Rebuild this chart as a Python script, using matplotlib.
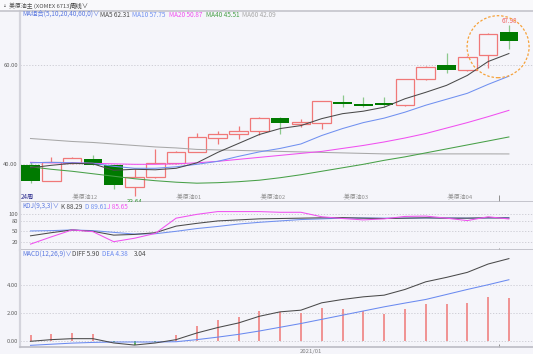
import matplotlib
matplotlib.use('Agg')
import matplotlib.pyplot as plt
from matplotlib.patches import Ellipse

plt.rcParams['font.family'] = ['Noto Sans CJK SC', 'DejaVu Sans']

W, H = 533, 354
BG = '#f5f5fa'

# weekly candles
opens = [39.9, 36.7, 40.3, 41.0, 39.9, 35.4, 37.4, 40.2, 42.5, 45.4, 46.1, 46.7,
         49.3, 48.2, 48.4, 52.5, 52.1, 52.4, 51.9, 57.1, 60.0, 58.9, 62.0, 66.6]
highs = [40.5, 41.5, 41.4, 41.9, 39.9, 39.0, 43.1, 42.6, 46.3, 46.7, 47.7, 49.5,
         49.6, 49.1, 52.75, 54.0, 53.6, 53.6, 57.1, 59.8, 62.4, 61.8, 66.5, 67.98]
lows = [36.3, 36.6, 40.0, 39.8, 35.0, 33.64, 37.3, 40.1, 42.4, 44.0, 45.0, 46.0,
        46.2, 47.6, 47.2, 51.5, 51.5, 51.6, 51.7, 57.0, 58.45, 58.8, 59.3, 63.2]
closes = [36.7, 40.5, 41.2, 39.8, 35.9, 37.5, 40.2, 42.5, 45.6, 46.1, 46.7, 49.3,
          48.4, 48.6, 52.75, 52.1, 51.8, 52.0, 57.1, 59.7, 59.0, 61.7, 66.2, 64.8]

ma5 = [39.3, 39.8, 40.2, 40.1, 38.8, 39.0, 38.9, 39.2, 40.3, 42.4, 44.2, 46.0,
       47.2, 47.8, 49.2, 50.2, 50.7, 51.5, 53.2, 54.5, 55.9, 57.9, 60.7, 62.31]
ma10 = [40.3, 40.4, 40.3, 40.2, 39.6, 39.2, 39.2, 39.5, 40.0, 40.6, 41.6, 42.5,
        43.2, 44.1, 45.8, 47.2, 48.4, 49.3, 50.5, 51.9, 53.1, 54.3, 56.1, 57.75]
ma20 = [40.4, 40.3, 40.3, 40.2, 40.1, 40.0, 40.0, 40.1, 40.3, 40.6, 41.0, 41.4,
        41.8, 42.2, 42.6, 43.2, 43.8, 44.5, 45.3, 46.2, 47.3, 48.4, 49.6, 50.87]
ma40 = [39.5, 39.0, 38.6, 38.1, 37.6, 37.1, 36.7, 36.4, 36.2, 36.3, 36.5, 36.8,
        37.3, 37.9, 38.6, 39.3, 40.0, 40.8, 41.5, 42.3, 43.1, 43.9, 44.7, 45.51]
ma60 = [45.2, 44.9, 44.6, 44.4, 44.1, 43.8, 43.5, 43.3, 43.0, 42.9, 42.8, 42.7,
        42.6, 42.5, 42.4, 42.3, 42.2, 42.1, 42.1, 42.1, 42.1, 42.1, 42.1, 42.09]

k_vals = [37, 46, 54, 50, 39, 41, 46, 65, 73, 80, 83, 86,
          87, 88, 89, 89.5, 88, 87, 88, 89, 88, 88, 89, 88.29]
d_vals = [51, 52, 54, 52, 47, 42, 43, 50, 58, 64, 71, 76,
          80, 84, 86, 88, 88.5, 88, 88, 88.5, 88.5, 88, 88.5, 89.61]
j_vals = [13, 34, 54, 49, 20, 30, 44, 88, 99, 107, 107, 107,
          105, 105, 92, 87, 83, 86, 93, 94, 88, 81, 92, 85.65]

diff = [-0.05, 0.07, 0.14, 0.14, -0.17, -0.32, -0.17, 0.07, 0.55, 0.94, 1.27, 1.75,
        2.07, 2.19, 2.72, 2.96, 3.15, 3.27, 3.68, 4.23, 4.55, 4.91, 5.51, 5.90]
dea = [-0.34, -0.26, -0.18, -0.13, -0.10, -0.10, -0.10, -0.08, 0.07, 0.25, 0.45, 0.69,
       0.96, 1.23, 1.53, 1.83, 2.13, 2.43, 2.70, 2.96, 3.32, 3.68, 4.02, 4.38]
macd_bar = [0.43, 0.45, 0.58, 0.45, -0.08, -0.30, -0.08, 0.38, 1.03, 1.47, 1.70, 2.10,
            2.07, 2.02, 2.35, 2.31, 2.14, 1.90, 2.26, 2.62, 2.60, 2.71, 3.15, 3.04]

roll_marks = [2, 7, 11, 15, 20]
roll_labels = ['-美原油12', '-美原油01', '-美原油02', '-美原油03', '-美原油04']

RED = '#f07878'
GREEN = '#007a00'
C_MA5, C_MA10, C_MA20, C_MA40, C_MA60 = '#4a4a4a', '#7090f0', '#f050f0', '#48a048', '#a8a8a8'

x = list(range(len(closes)))
XMIN = -0.505
XMAX = XMIN + 513 / 20.8


def frac(px_l, px_t, px_w, px_h):
    return [px_l / W, 1 - (px_t + px_h) / H, px_w / W, px_h / H]


fig = plt.figure(figsize=(W / 100, H / 100), dpi=100, facecolor=BG)
ax = fig.add_axes(frac(20, 11, 513, 191), facecolor=BG)
ax_k = fig.add_axes(frac(20, 202, 513, 48), facecolor=BG)
ax_m = fig.add_axes(frac(20, 250, 513, 97), facecolor=BG)

for a in (ax, ax_k, ax_m):
    a.set_xlim(XMIN, XMAX)
    a.set_xticks([])
    for s in ('top', 'right'):
        a.spines[s].set_visible(False)
    a.spines['left'].set_color('#d4d4dc')
    a.spines['left'].set_linewidth(1.6)
    a.spines['bottom'].set_color('#bcbcc4')
    a.spines['bottom'].set_linewidth(1.2)
    a.tick_params(axis='y', length=0, pad=1.5, labelsize=4.2, labelcolor='#606060')
    a.grid(axis='y', color='#c8c8d0', linestyle=(0, (1.5, 2)), linewidth=0.6)
    a.set_axisbelow(True)

# main panel
ax.set_ylim(32.41, 70.88)
ax.set_yticks([40, 60])
ax.set_yticklabels(['40.00', '60.00'])

for i in x:
    o, h, l, c = opens[i], highs[i], lows[i], closes[i]
    if c >= o:
        ax.vlines(i, l, h, color=RED, lw=0.9, zorder=2)
        ax.bar(i, max(c - o, 0.15), bottom=o, width=0.9, facecolor=BG,
               edgecolor=RED, linewidth=0.9, zorder=3)
    else:
        ax.vlines(i, l, h, color='#8cc88c', lw=0.9, zorder=2)
        ax.bar(i, o - c, bottom=c, width=0.9, color=GREEN, linewidth=0, zorder=3)

for vals, col in ((ma60, C_MA60), (ma40, C_MA40), (ma20, C_MA20), (ma10, C_MA10), (ma5, C_MA5)):
    ax.plot(x, vals, color=col, lw=0.75, zorder=4)

ax.text(23, highs[23], '%.2f' % highs[23], color='#f06060', fontsize=4.5,
        ha='center', va='bottom', zorder=5)
ax.annotate('%.2f' % min(lows), (5, min(lows)), xytext=(0, -1.5), textcoords='offset points',
            color='#40a040', fontsize=4.5, ha='center', va='top')
ax.add_patch(Ellipse((22.48, 63.69), 2 * 31 / 20.8, 2 * 31 / 4.965, fill=False,
                     edgecolor='#f6a23a', linestyle=(0, (2, 1.5)), lw=0.9, clip_on=False, zorder=6))

for m, lab in zip(roll_marks, roll_labels):
    ax.text(m, 33.4, lab, color='#909090', fontsize=4.2, ha='left', va='center')
ax.text(-0.45, 33.4, '24周', color='#303090', fontsize=4.5, ha='left', va='center')

# KDJ
ax_k.set_ylim(-4.0, 134.7)
ax_k.set_yticks([20, 50, 80, 100])
ax_k.plot(x, d_vals, color=C_MA10, lw=0.75)
ax_k.plot(x, k_vals, color=C_MA5, lw=0.75)
ax_k.plot(x, j_vals, color=C_MA20, lw=0.75)

# MACD
ax_m.set_ylim(-0.46, 6.52)
ax_m.set_yticks([0, 2, 4])
ax_m.set_yticklabels(['0.00', '2.00', '4.00'])
bar_cols = ['#f08a8a' if v >= 0 else '#50b050' for v in macd_bar]
ax_m.vlines(x, 0, macd_bar, colors=bar_cols, lw=1.3)
ax_m.plot(x, dea, color='#6a8af0', lw=0.75)
ax_m.plot(x, diff, color=C_MA5, lw=0.75)

for a, lo in ((ax, 32.41), (ax_k, -4.0), (ax_m, -0.46)):
    top = a.get_ylim()[1]
    a.vlines(22.5, lo, lo + (top - lo) * 0.035, color='#909090', lw=0.7, clip_on=False)

# header strip
fig.add_artist(plt.Line2D([0, 1], [1 - 10.5 / H, 1 - 10.5 / H], color='#c4c4cc', lw=1.2))
fig.patches.append(plt.Rectangle((0, 1 - 10 / H), 1, 10 / H, transform=fig.transFigure,
                                 facecolor='#f9f9fb', edgecolor='none', zorder=-1))


def label(px_x, px_y, s, col, size=4.6):
    fig.text(px_x / W, 1 - px_y / H, s, color=col, fontsize=size, ha='left', va='center')


label(2, 5.5, '▫ 美原油主 (XOMEX 6713)', '#505050', 4.2)
label(70, 5.5, '周线∨', '#404040', 4.6)

label(22.5, 14.8, 'MA组合(5,10,20,40,60,0)∨', '#5a78e0')
label(100, 14.8, 'MA5 %.2f' % ma5[-1], C_MA5)
label(132.5, 14.8, 'MA10 %.2f' % ma10[-1], C_MA10)
label(169, 14.8, 'MA20 %.2f' % ma20[-1], C_MA20)
label(205.5, 14.8, 'MA40 %.2f' % ma40[-1], C_MA40)
label(241.5, 14.8, 'MA60 %.2f' % ma60[-1], C_MA60)

label(22.5, 206.8, 'KDJ(9,3,3)∨', '#5a78e0')
label(61, 206.8, 'K %.2f' % k_vals[-1], C_MA5)
label(85, 206.8, 'D %.2f' % d_vals[-1], C_MA10)
label(107, 206.8, 'J %.2f' % j_vals[-1], C_MA20)

label(22.5, 254.3, 'MACD(12,26,9)∨', '#5a78e0')
label(72.5, 254.3, 'DIFF %.2f' % diff[-1], C_MA5)
label(102.3, 254.3, 'DEA %.2f' % dea[-1], '#6a8af0')
label(134, 254.3, '%.2f' % macd_bar[-1], C_MA5)

label(300, 351, '2021/01', '#808080', 4.3)

fig.savefig('out.png', dpi=100, facecolor=BG)
